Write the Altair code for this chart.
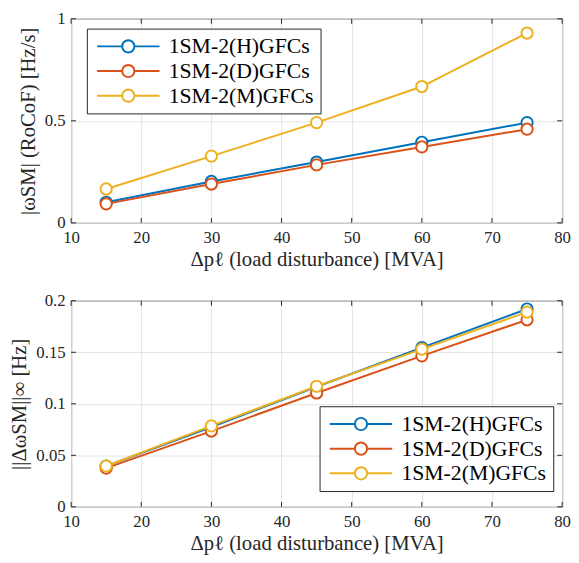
import altair as alt
import pandas as pd

x_vals = [15, 30, 45, 60, 75]
series = ["1SM-2(H)GFCs", "1SM-2(D)GFCs", "1SM-2(M)GFCs"]
colors = ["#0072BD", "#D95319", "#EDB120"]

rocof_H = [0.101, 0.203, 0.298, 0.395, 0.491]
rocof_D = [0.093, 0.190, 0.284, 0.372, 0.459]
rocof_M = [0.166, 0.327, 0.491, 0.668, 0.930]

dev_H = [0.0395, 0.0775, 0.1165, 0.1545, 0.1920]
dev_D = [0.0375, 0.0735, 0.1105, 0.1465, 0.1815]
dev_M = [0.0396, 0.0785, 0.1170, 0.1530, 0.1890]

x_ticks = [10, 20, 30, 40, 50, 60, 70, 80]
y1_ticks = [0, 0.5, 1]
y2_ticks = [0, 0.05, 0.1, 0.15, 0.2]

x_title = "Δpℓ (load disturbance) [MVA]"
y1_title = "|ωSM| (RoCoF) [Hz/s]"
y2_title = "||ΔωSM||∞ [Hz]"

FONT = "serif"
INK = "#262626"
W = 498
H1 = 207
H2 = 209

SYM = "M-5.1,0L-1,0M1,0L5.1,0M1,0A1,1 0 1 1 -1,0A1,1 0 1 1 1,0Z"


def panel(vals, y_ticks, y_max, y_title, h, lx, ly):
    frames = []
    for name, v in zip(series, vals):
        frames.append(pd.DataFrame({"x": x_vals, "y": v, "s": name}))
    legend = alt.Legend(
        title=None, orient="none", legendX=lx, legendY=ly,
        symbolType=SYM, symbolSize=154, symbolStrokeWidth=2,
        symbolFillColor="white", symbolOffset=24,
        labelFont=FONT, labelFontSize=22, labelColor="#000000", labelOffset=30,
        strokeColor=INK, fillColor="white", padding=7, rowPadding=3,
        cornerRadius=0,
    )
    axis_style = dict(labelFont=FONT, titleFont=FONT, labelFontSize=17,
                      titleFontSize=21, titleFontWeight="normal",
                      labelColor=INK, titleColor=INK)
    xs = alt.X("x:Q", scale=alt.Scale(domain=[10, 80], nice=False),
               axis=alt.Axis(values=x_ticks, title=x_title, format="d",
                             labelFlush=False, labelPadding=7, titlePadding=3,
                             **axis_style))
    ys = alt.Y("y:Q", scale=alt.Scale(domain=[0, y_max], nice=False),
               axis=alt.Axis(values=y_ticks, title=y_title, format="~g",
                             labelPadding=6, titlePadding=6, **axis_style))
    stroke = alt.Stroke("s:N", scale=alt.Scale(domain=series, range=colors),
                        legend=legend)
    layers = []
    for df in frames:
        base = alt.Chart(df)
        layers.append(base.mark_line(strokeWidth=2).encode(x=xs, y=ys, stroke=stroke))
        layers.append(base.mark_point(shape="circle", filled=True, fill="white",
                                      size=130, strokeWidth=2, opacity=1)
                      .encode(x=xs, y=ys, stroke=stroke))
    xt = pd.DataFrame({"t": x_ticks})
    yt = pd.DataFrame({"t": y_ticks})
    tick_x_scale = alt.Scale(domain=[10, 80], nice=False)
    tick_y_scale = alt.Scale(domain=[0, y_max], nice=False)
    for yy in [h - 2.5, 2.5]:
        layers.append(alt.Chart(xt).mark_tick(orient="vertical", size=5, thickness=1,
                                              color=INK, opacity=1)
                      .encode(x=alt.X("t:Q", scale=tick_x_scale), y=alt.value(yy)))
    for xx in [2.5, W - 2.5]:
        layers.append(alt.Chart(yt).mark_tick(orient="horizontal", size=5, thickness=1,
                                              color=INK, opacity=1)
                      .encode(y=alt.Y("t:Q", scale=tick_y_scale), x=alt.value(xx)))
    return alt.layer(*layers).properties(width=W, height=h)


top = panel([rocof_H, rocof_D, rocof_M], y1_ticks, 1, y1_title, H1, 16, 10)
bottom = panel([dev_H, dev_D, dev_M], y2_ticks, 0.2, y2_title, H2, 252, 107)

chart = (
    alt.vconcat(top, bottom, spacing=21)
    .resolve_scale(stroke="independent")
    .resolve_legend(stroke="independent")
    .properties(padding={"left": 0, "top": -3, "right": 0, "bottom": 0})
    .configure(font=FONT)
    .configure_view(stroke=INK, strokeWidth=1)
    .configure_axis(domain=False, ticks=False,
                    grid=True, gridColor="#e3e3e3", gridWidth=1)
)

chart.save("out.html", embed_options={"renderer": "svg", "actions": False})
